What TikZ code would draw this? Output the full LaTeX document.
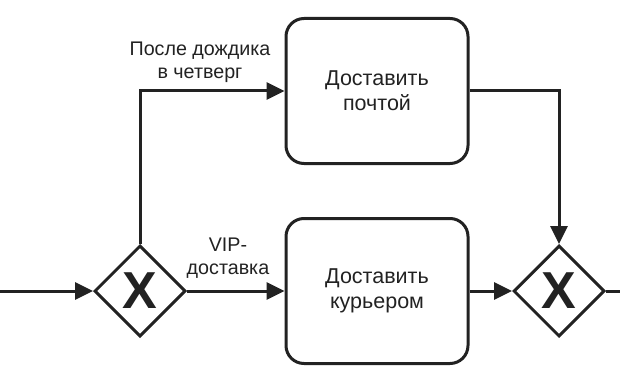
\documentclass[tikz,border=0pt]{standalone}
\usepackage{fontspec}
\setmainfont{Liberation Sans}
\usetikzlibrary{arrows.meta,shapes.geometric}
\definecolor{ink}{HTML}{222222}
\tikzset{
  x=1pt, y=-1pt,
  task/.style={draw=ink, line width=3pt, rounded corners=18pt, minimum width=182pt, minimum height=145pt, align=center, font=\fontsize{21.5}{25}\selectfont, text=ink},
  gw/.style={draw=ink, line width=3pt, shape=diamond, minimum size=91pt, inner sep=0pt},
  flow/.style={draw=ink, line width=3pt, -{Triangle[length=18pt,width=17pt]}},
  plain/.style={draw=ink, line width=3pt},
  lbl/.style={align=center, font=\fontsize{19.7}{23}\selectfont, text=ink, inner sep=0pt},
  xmark/.style={font=\fontsize{52}{52}\bfseries\selectfont, text=ink, inner sep=0pt}
}
\begin{document}
\begin{tikzpicture}
\useasboundingbox (0,0) rectangle (620,385);
\node[task] (post) at (377,91) {Доставить\\почтой};
\node[task] (cour) at (377,291) {Доставить\\курьером};
\node[gw] (g1) at (140,291) {};
\node[xmark] (x1) at (140,291) {X};
\node[gw] (g2) at (559,291) {};
\node[xmark] (x2) at (559,291) {X};
\coordinate (in) at (0,291);
\coordinate (out) at (620,291);
\coordinate (c1) at (140,91);
\coordinate (c2) at (559,91);
\draw[flow] (in) -- (g1.west);
\draw[flow] (g1.north) -- (c1) -- (post.west);
\draw[flow] (g1.east) -- (cour.west);
\draw[flow] (cour.east) -- (g2.west);
\draw[flow] (post.east) -- (c2) -- (g2.north);
\draw[plain] (g2.east) -- (out);
\node[lbl] (l1) at (200,62) {После дождика\\в четверг};
\node[lbl] (l2) at (228,258) {VIP-\\доставка};
\end{tikzpicture}
\end{document}
